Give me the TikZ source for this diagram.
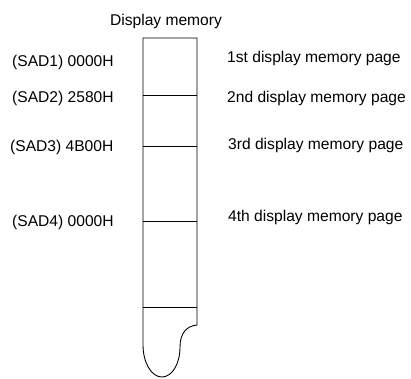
\documentclass[tikz,border=0pt]{standalone}
\usepackage{fontspec}
\setmainfont{Liberation Sans}
\begin{document}
\begin{tikzpicture}[x=1pt,y=-1pt,
  lbl/.style={inner sep=0pt,font=\fontsize{15.6}{18}\selectfont},
  mem/.style={line width=0.9pt}]
\useasboundingbox (0,0) rectangle (411,378);
\node[lbl] (title) at (166,21) {Display memory};
\node[lbl,anchor=west] (s1) at (12,62) {(SAD1) 0000H};
\node[lbl,anchor=west] (s2) at (12,98) {(SAD2) 2580H};
\node[lbl,anchor=west] (s3) at (10,147) {(SAD3) 4B00H};
\node[lbl,anchor=west] (s4) at (12,222) {(SAD4) 0000H};
\node[lbl,anchor=west] (p1) at (227,58) {1st display memory page};
\node[lbl,anchor=west] (p2) at (227,98) {2nd display memory page};
\node[lbl,anchor=west] (p3) at (228,145) {3rd display memory page};
\node[lbl,anchor=west] (p4) at (228,217) {4th display memory page};
\draw[mem] (197,325) .. controls (186,326) and (180,334) .. (180,347)
  .. controls (180,364) and (172,377) .. (162,377)
  .. controls (151,377) and (143,362) .. (143,345)
  -- (143,38) -- (197,38) -- cycle;
\foreach \y in {95.7,146.7,221.7,307.7}
  \draw[mem] (143,\y) -- (197,\y);
\end{tikzpicture}
\end{document}
